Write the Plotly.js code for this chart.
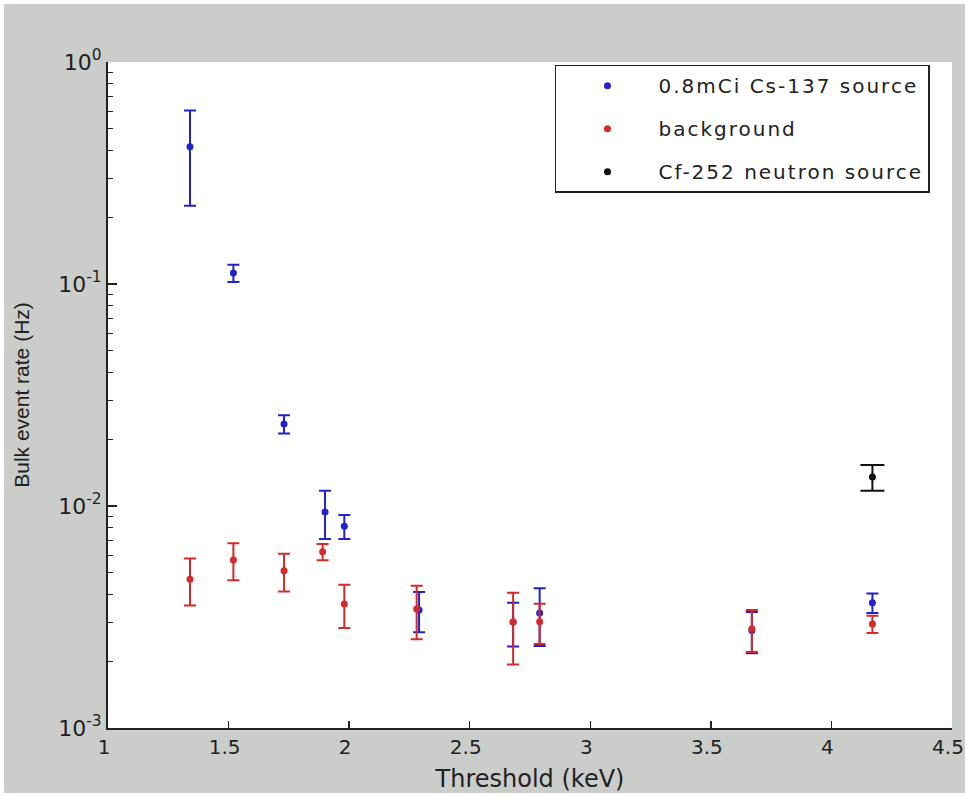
<!DOCTYPE html>
<html>
<head>
<meta charset="utf-8">
<script src="https://cdn.plot.ly/plotly-3.0.1.min.js"></script>
<style>
  html, body { margin: 0; padding: 0; background: #ffffff; width: 965px; height: 797px; overflow: hidden; }
  #chart { position: absolute; left: 4px; top: 4px; width: 961px; height: 789px; }
  .legendtext { letter-spacing: 2px; }
</style>
</head>
<body>
<div id="chart"></div>
<script>
// Threshold (keV)
const csX  = [1.34, 1.52, 1.73, 1.90, 1.98, 2.29, 2.68, 2.79, 3.67, 4.17];
const csY  = [0.415, 0.112, 0.0234, 0.0094, 0.0081, 0.0034, 0.0030, 0.0033, 0.00275, 0.00367];
const csErr = [0.19, 0.010, 0.0022, 0.0023, 0.0010, 0.0007, 0.00067, 0.00096, 0.00058, 0.00037];

const bgX  = [1.34, 1.52, 1.73, 1.89, 1.98, 2.28, 2.68, 2.79, 3.67, 4.17];
const bgY  = [0.00468, 0.00571, 0.00511, 0.00622, 0.00362, 0.00344, 0.00300, 0.00301, 0.00280, 0.00294];
const bgErr = [0.00112, 0.00108, 0.00099, 0.00052, 0.00080, 0.00093, 0.00107, 0.00062, 0.00060, 0.00026];

const cfX  = [4.17];
const cfY  = [0.0135];
const cfErr = [0.0018];

const seriesNames = ['0.8mCi Cs-137 source', 'background', 'Cf-252 neutron source'];

const yTickVals = [0.001, 0.01, 0.1, 1];
const yTickText = ['10<sup>-3</sup>', '10<sup>-2</sup>', '10<sup>-1</sup>', '10<sup>0</sup>'];
const yMinorVals = [0.002, 0.003, 0.004, 0.005, 0.006, 0.007, 0.008, 0.009,
                    0.02, 0.03, 0.04, 0.05, 0.06, 0.07, 0.08, 0.09,
                    0.2, 0.3, 0.4, 0.5, 0.6, 0.7, 0.8, 0.9];
const xTickVals = [1, 1.5, 2, 2.5, 3, 3.5, 4, 4.5];
const xTickText = ['1', '1.5', '2', '2.5', '3', '3.5', '4', '4.5'];

const BLUE = '#2222c8', RED = '#d42a2a', BLACK = '#111111';
const DV = '"DejaVu Sans", Verdana, sans-serif';
const LS = '"Liberation Sans", Arial, sans-serif';

function mk(x, y, e, name, color, capw, grp) {
  return {
    type: 'scatter', mode: 'markers', x: x, y: y, name: name,
    legendgroup: grp,
    marker: { color: color, size: 7, symbol: 'circle' },
    error_y: { type: 'data', array: e, visible: true, color: color, thickness: 2, width: capw },
    hoverinfo: 'x+y'
  };
}

const data = [
  mk(csX, csY, csErr, seriesNames[0], BLUE, 6, 'a'),
  mk(bgX, bgY, bgErr, seriesNames[1], RED, 6, 'b'),
  mk(cfX, cfY, cfErr, seriesNames[2], BLACK, 12, 'c')
];

const layout = {
  width: 961, height: 789,
  paper_bgcolor: '#cacdca',
  plot_bgcolor: '#ffffff',
  margin: { l: 104, r: 13, t: 58, b: 65 },
  font: { family: DV, size: 20, color: '#222222' },
  showlegend: true,
  legend: {
    x: 0.5296, y: 0.996, xanchor: 'left', yanchor: 'top',
    bgcolor: '#ffffff', bordercolor: '#222222', borderwidth: 1.5,
    font: { family: DV, size: 20, color: '#222222' },
    tracegroupgap: 14, itemwidth: 92,
    traceorder: 'grouped'
  },
  xaxis: {
    range: [1, 4.5], showgrid: false, zeroline: false,
    showline: true, linecolor: '#222222', linewidth: 2, mirror: false,
    ticks: 'inside', ticklen: 7, tickwidth: 1.5, tickcolor: '#222222',
    tickvals: xTickVals, ticktext: xTickText, ticklabeloverflow: 'allow', ticklabelshift: -4,
    tickfont: { family: DV, size: 20, color: '#222222' },
    title: { text: 'Threshold (keV)', font: { family: DV, size: 24, color: '#222222' }, standoff: 20 }
  },
  yaxis: {
    type: 'log', range: [-3, 0], showgrid: false, zeroline: false,
    showline: true, linecolor: '#222222', linewidth: 2, mirror: false,
    ticks: 'inside', ticklen: 9, tickwidth: 1.5, tickcolor: '#222222',
    tickvals: yTickVals, ticktext: yTickText, ticklabeloverflow: 'allow',
    tickfont: { family: DV, size: 22, color: '#222222' },
    minor: { ticks: 'inside', ticklen: 5, tickwidth: 1, tickcolor: '#222222', tickmode: 'array', tickvals: yMinorVals, showgrid: false },
    title: { text: 'Bulk event rate (Hz)', font: { family: LS, size: 21, color: '#222222' }, standoff: 23 }
  }
};

Plotly.newPlot('chart', data, layout, { displayModeBar: false, staticPlot: true });
</script>
</body>
</html>
